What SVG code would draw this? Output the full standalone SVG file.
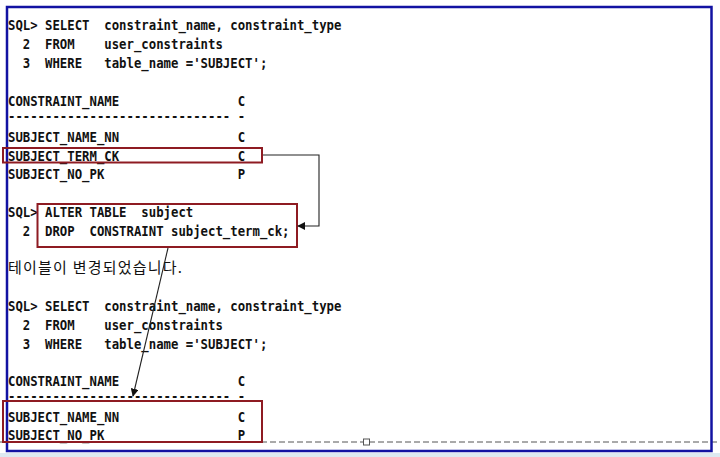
<svg xmlns="http://www.w3.org/2000/svg" width="720" height="457" viewBox="0 0 720 457">
<style>
.m{font-family:"DejaVu Sans Mono","Liberation Mono",monospace;font-size:14px;font-weight:bold;fill:#111;white-space:pre}
.k{font-family:"Noto Sans CJK KR","Noto Sans",sans-serif;font-size:15px;fill:#111}
.box{fill:none;stroke:#8e1b22;stroke-width:2}
.con{fill:none;stroke:#222;stroke-width:1.1}
</style>
<defs>
<marker id="ah" viewBox="0 0 10 10" refX="9" refY="5" markerWidth="8" markerHeight="8" markerUnits="userSpaceOnUse" orient="auto">
<path d="M0,0 L10,5 L0,10 z" fill="#111"/>
</marker>
</defs>
<rect x="0" y="0" width="720" height="457" fill="#fff"/>
<rect x="0" y="453" width="720" height="4" fill="#dde9f1"/>
<g id="page-break">
<line x1="0" y1="442" x2="720" y2="442" stroke="#555" stroke-width="1" stroke-dasharray="6,3"/>
<rect x="363.5" y="439" width="6" height="6" fill="#fff" stroke="#555" stroke-width="1"/>
</g>
<rect id="frame" x="7" y="7" width="704.5" height="444" fill="none" stroke="#1212a2" stroke-width="2.5"/>
<g transform="scale(0.88,1)">
<g id="query1">
<text class="m" x="9.09" y="30" xml:space="preserve">SQL&gt; SELECT  constraint_name, constraint_type</text>
<text class="m" x="9.09" y="49" xml:space="preserve">  2  FROM    user_constraints</text>
<text class="m" x="9.09" y="68" xml:space="preserve">  3  WHERE   table_name ='SUBJECT';</text>
</g>
<g id="result1">
<text class="m" x="9.09" y="106" xml:space="preserve">CONSTRAINT_NAME                C</text>
<text class="m" x="9.09" y="121" xml:space="preserve">------------------------------ -</text>
<text class="m" x="9.09" y="142" xml:space="preserve">SUBJECT_NAME_NN                C</text>
<text class="m" x="9.09" y="161" xml:space="preserve">SUBJECT_TERM_CK                C</text>
<text class="m" x="9.09" y="179" xml:space="preserve">SUBJECT_NO_PK                  P</text>
</g>
<g id="alter-stmt">
<text class="m" x="9.09" y="217" xml:space="preserve">SQL&gt; ALTER TABLE  subject</text>
<text class="m" x="9.09" y="236" xml:space="preserve">  2  DROP  CONSTRAINT subject_term_ck;</text>
</g>
<g id="query2">
<text class="m" x="9.09" y="311" xml:space="preserve">SQL&gt; SELECT  constraint_name, constraint_type</text>
<text class="m" x="9.09" y="330" xml:space="preserve">  2  FROM    user_constraints</text>
<text class="m" x="9.09" y="349" xml:space="preserve">  3  WHERE   table_name ='SUBJECT';</text>
</g>
<g id="result2">
<text class="m" x="9.09" y="386" xml:space="preserve">CONSTRAINT_NAME                C</text>
<text class="m" x="9.09" y="401" xml:space="preserve">------------------------------ -</text>
<text class="m" x="9.09" y="422" xml:space="preserve">SUBJECT_NAME_NN                C</text>
<text class="m" x="9.09" y="440" xml:space="preserve">SUBJECT_NO_PK                  P</text>
</g>
</g>
<g id="message">
<text class="k" x="8" y="273" textLength="174" lengthAdjust="spacing">테이블이 변경되었습니다.</text>
</g>
<g id="box-term-ck"><rect class="box" x="3" y="148" width="259" height="14.5"/></g>
<g id="box-alter"><rect class="box" x="37.5" y="204" width="259.5" height="43"/></g>
<g id="box-result"><rect class="box" x="3" y="401" width="259" height="41"/></g>
<g id="connectors">
<path class="con" d="M263,155 H319 V226 H298" marker-end="url(#ah)"/>
<path class="con" d="M168,248 L133,396" marker-end="url(#ah)"/>
</g>
</svg>
